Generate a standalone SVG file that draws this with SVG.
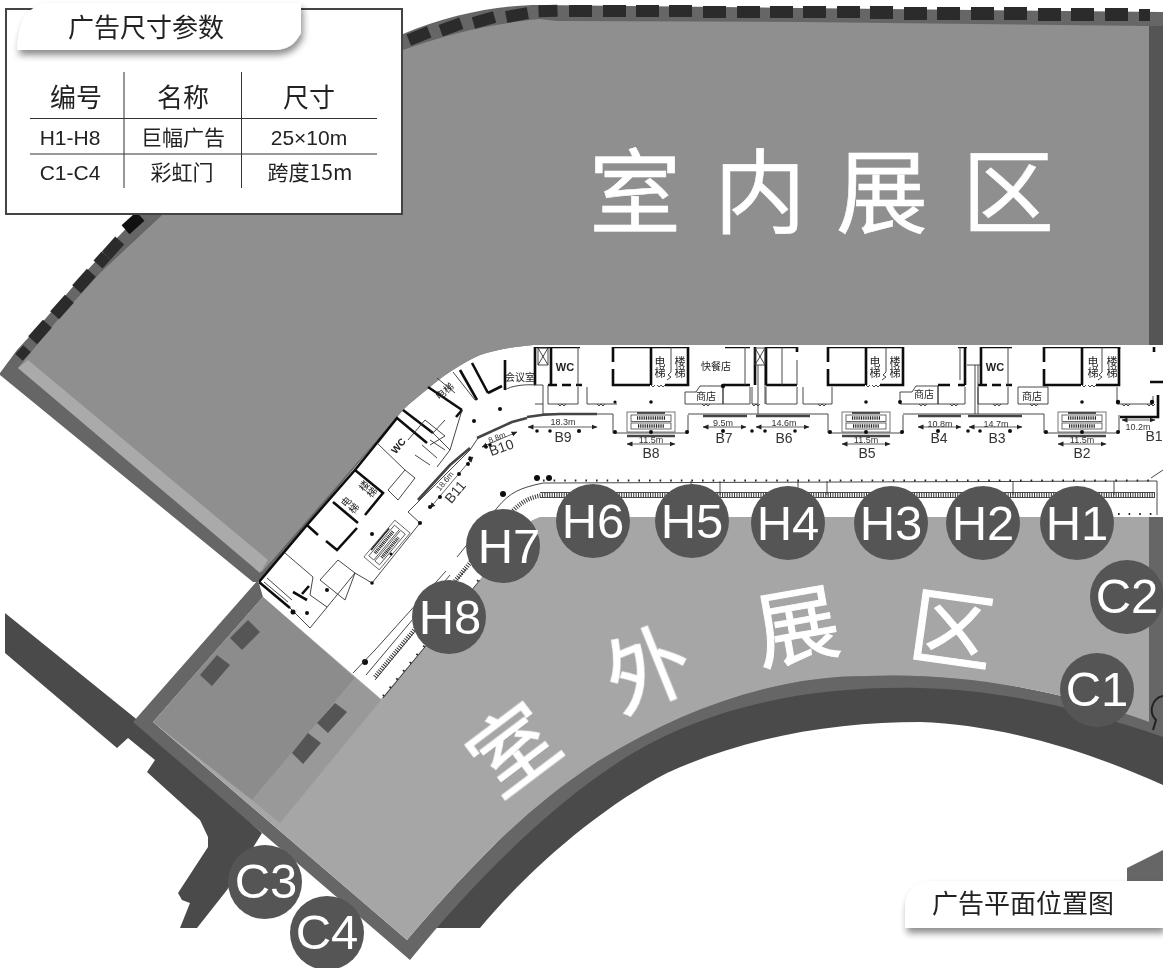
<svg xmlns="http://www.w3.org/2000/svg" xmlns:xlink="http://www.w3.org/1999/xlink" width="1163" height="968" viewBox="0 0 1163 968">
<style>
.cjk{font-family:"Noto Sans CJK SC","Liberation Sans",sans-serif}
.lat{font-family:"Liberation Sans","Noto Sans CJK SC",sans-serif}
.w{stroke:#111;stroke-width:2.6;fill:none}
.t{stroke:#333;stroke-width:.9;fill:none}
.bar{stroke:#444;stroke-width:2.6;fill:none}
.dim{stroke:#222;stroke-width:.7;fill:none;marker-start:url(#ar);marker-end:url(#ar)}
.dot{fill:#111}
.bl{fill:#2b2b2b}
.pl{fill:#222;font-size:10px;text-anchor:middle}
.vt{writing-mode:vertical-rl;font-size:11px}
.dl{fill:#333;font-size:9px;text-anchor:middle}
.bn{fill:#333;font-size:14px;text-anchor:middle}
.hd{fill:#222;font-size:26px;text-anchor:middle}
.row{fill:#222;font-size:21px;text-anchor:middle}
.big{fill:#fff;stroke:#fff;stroke-width:.6;font-size:92px;text-anchor:middle}
.out{fill:#fff;stroke:#fff;stroke-width:1;font-size:84px;text-anchor:middle}
.cl{fill:#555}
.ct{fill:#fff;font-size:49px;text-anchor:middle}
.rail{stroke:#333;stroke-width:4.5;stroke-dasharray:1 1.4;fill:none}
.tick{stroke:#222;stroke-width:2;stroke-dasharray:1.6 9;fill:none}
</style>
<defs>
<marker id="ar" viewBox="0 0 6 6" refX="5.5" refY="3" markerWidth="6" markerHeight="6" orient="auto-start-reverse" markerUnits="userSpaceOnUse"><path d="M0,.5L6,3L0,5.5Z" fill="#222"/></marker>
<filter id="sh" x="-10%" y="-30%" width="120%" height="170%"><feDropShadow dx="2" dy="5" stdDeviation="3.5" flood-color="#000" flood-opacity=".45"/></filter>
<filter id="soft" x="0" y="0" width="100%" height="100%"><feGaussianBlur stdDeviation=".35"/></filter>
<g id="esc">
<rect x="-24" y="-10" width="48" height="20" fill="none" stroke="#555" stroke-width=".8"/>
<rect x="-20" y="-7" width="40" height="6.500" fill="none" stroke="#444" stroke-width=".8"/>
<rect x="-20" y="1" width="40" height="6" fill="none" stroke="#444" stroke-width=".8"/>
<path d="M-14,-9H14" stroke="#222" stroke-width="1.500"/>
<path d="M-14,-4H14M-13,4H13" stroke="#222" stroke-width="3.500" stroke-dasharray="1 .8"/>
</g>
<path id="door" d="M0,0l2,2 2,-2 2,2 2,-2" class="t"/>
<g id="module">
<path class="w" d="M613,347H688V385H665M613,347V362M613,369V385H650M651,347V385"/>
<path class="t" d="M671,347V372l-3,3 3,2-4,3M651,385l2,2 2,-2M657,385l2,2 2,-2 2,2 2,-2"/>
<path class="t" d="M613,414V433H688V415"/>
<use xlink:href="#esc" x="651" y="422"/>
<path class="bar" d="M627,436H675"/>
<path class="dim" d="M627,444H675"/>
<circle class="dot" cx="615" cy="432" r="2"/><circle class="dot" cx="651" cy="432" r="2"/><circle class="dot" cx="687" cy="432" r="2"/><circle class="dot" cx="651" cy="402" r="1.800"/>
</g>
</defs>

<rect width="1163" height="968" fill="#fff"/>

<g id="road">
<path fill="#4a4a4a" d="M5,613L140,722L262,833L227,890L197,928H180L190,903L182,900L178,893L208,847V837L200,820L147,772L155,760L128,738L117,748L5,653Z"/>
<path fill="#4a4a4a" d="M425,928H480C530,868 600,808 667,773C750,735 840,722 920,722C1005,725 1090,752 1163,785V720L900,660L700,690L600,720Z"/>
<path fill="#666" d="M1127,868L1163,850V882H1127Z"/>
</g>

<g id="indoor-hall">
<path fill="#666" d="M0,373L17,350L40,325L83,275L117,238C200,150 320,70 403,34C450,14 500,5 540,5L800,8L1163,12V345H533C510,347 495,350 480,355C460,364 440,378 430,387C420,395 410,403 403,410L259,582L253,582L0,375Z"/>
<path fill="#8f8f8f" d="M18,368L60,317L100,273L160,217C250,130 340,80 403,50C450,33 490,24 540,19L557,21L800,22L1149,26V345H533C510,347 495,350 480,355C460,364 440,378 430,387C420,395 410,403 403,410L262,572Z"/>
<path fill="#aaa" d="M18,368L28,360L268,560L260,573Z"/>
<rect x="1149" y="26" width="14" height="319" fill="#555"/>
<g id="wall-marks" class="bl">
<rect x="569" y="5" width="23" height="12"/><rect x="603" y="5" width="23" height="12"/><rect x="636" y="5" width="23" height="12"/><rect x="669" y="5" width="23" height="12"/><rect x="703" y="6" width="23" height="12"/><rect x="737" y="6" width="23" height="12"/><rect x="770" y="6" width="23" height="12"/>
<rect x="803" y="6" width="23" height="12"/><rect x="837" y="6" width="23" height="12"/><rect x="870" y="6" width="23" height="13"/><rect x="904" y="7" width="23" height="13"/><rect x="937" y="7" width="23" height="13"/><rect x="971" y="7" width="23" height="13"/><rect x="1004" y="7" width="23" height="13"/><rect x="1038" y="8" width="23" height="13"/><rect x="1071" y="8" width="23" height="13"/><rect x="1105" y="8" width="23" height="13"/><rect x="1139" y="9" width="11" height="12"/>
<rect x="-9.500" y="-6" width="19" height="12" transform="translate(548,11) rotate(-2)"/>
<rect x="-11" y="-6" width="22" height="12" transform="translate(517,15) rotate(-10)"/>
<rect x="-11" y="-6" width="22" height="12" transform="translate(484,20) rotate(-16)"/>
<rect x="-11" y="-6" width="22" height="12" transform="translate(451,27) rotate(-20)"/>
<rect x="-11" y="-6" width="22" height="12" transform="translate(419,36) rotate(-22)"/>
<rect x="-10" y="-6" width="20" height="12" transform="translate(133,223) rotate(-42)" fill="#111"/>
<rect x="-10" y="-6" width="20" height="12" transform="translate(113,248) rotate(-48)"/>
<rect x="-6" y="-6" width="12" height="12" transform="translate(102,260) rotate(-48)"/>
<rect x="-11" y="-6" width="22" height="12" transform="translate(84,281) rotate(-48)"/>
<rect x="-11" y="-6" width="22" height="12" transform="translate(62,307) rotate(-48)"/>
<rect x="-11" y="-6" width="22" height="12" transform="translate(40,332) rotate(-48)"/>
<rect x="-6" y="-5" width="12" height="10" transform="translate(23,353) rotate(-48)"/>
</g>
</g>

<g id="outdoor-hall">
<path fill="#666" d="M258,580L133,722L410,960C475,880 555,800 633,753C720,702 820,686 920,688C1010,690 1090,712 1163,737V517H1149V722C1060,690 960,672 867,676C775,676 685,708 600,760C525,808 465,872 407,940L153,722L263,597Z"/>
<path fill="#a6a6a6" d="M263,597L381,699L480,580C495,555 515,525 540,517H1149V722C1060,690 960,672 867,676C775,676 685,708 600,760C525,808 465,872 407,940L153,722Z"/>
<path fill="#8c8c8c" d="M153,722L263,597L355,678L252,800Z"/>
<path fill="#999" d="M355,678L381,700L280,823L252,800Z"/>
<g id="gates" fill="#555">
<path d="M248,620L260,632L242,650L230,638Z"/><path d="M217,655L230,665L212,686L200,675Z"/><path d="M335,703L347,712L328,733L317,723Z"/><path d="M308,733L321,743L303,764L292,753Z"/>
</g>
<path d="M1163,696C1152,698 1148,712 1156,720L1153,730" fill="none" stroke="#222" stroke-width="2"/>
</g>

<g id="floor-plan" filter="url(#soft)">
<use xlink:href="#module"/>
<use xlink:href="#module" x="215"/>
<use xlink:href="#module" x="431"/>
<path class="w" d="M535,347V385M551,347V385M535,347H580"/>
<path class="w" stroke-dasharray="9 5" d="M548,385H582"/>
<path class="t" d="M538,348H548V365H538ZM538,348L548,365M548,348L538,365M578,347V385M534,385H543V414M548,385V404H578V387M587,387V404H617M535,404H543"/>
<path class="t" d="M543,414H613M688,414H828M903,414H1044M758,365V414M765,365V404"/>
<path class="w" d="M725,347H750M750,385H723M755,347V385M766,347V385M766,347H797M766,385H797M797,347V352"/>
<path class="t" d="M755,348H765V365H755ZM755,348L765,365M765,348L755,365M745,347V385M782,347V385M797,360V385"/>
<path class="t" d="M685,392H696L700,386H723V404H685ZM723,386V404H750V387M752,387V404H758M766,387V404H797V387M803,387V404H832V387"/>
<path class="t" d="M900,392H912L916,386H938V404H900ZM938,386V404H965V387M978,387V404H1008V387M1018,387H1048V404H1018ZM1117,387V404H1153V396"/>
<path class="w" d="M965,347V385M981,347V385M967,347H958M981,347H1012M938,385H950M958,385H965M1119,347V349M1154,347V352M1150,382H1163"/>
<path class="w" stroke-dasharray="9 5" d="M978,385H1012"/>
<path class="t" d="M967,365H980M975,365V414M1008,347V385M978,365V414M960,347V380"/>
<path class="w" stroke-width="3.500" d="M1120,417H1158V395"/>
<use xlink:href="#door" x="752" y="404"/><use xlink:href="#door" x="702" y="404"/><use xlink:href="#door" x="558" y="404"/><use xlink:href="#door" x="597" y="404"/><use xlink:href="#door" x="818" y="404"/><use xlink:href="#door" x="919" y="404"/><use xlink:href="#door" x="950" y="404"/><use xlink:href="#door" x="993" y="404"/><use xlink:href="#door" x="1030" y="404"/><use xlink:href="#door" x="1122" y="404"/><use xlink:href="#door" x="1147" y="404"/>
<circle class="dot" cx="615" cy="402" r="1.600"/><circle class="dot" cx="723" cy="386" r="2.200"/><circle class="dot" cx="1118" cy="402" r="2.200"/><circle class="dot" cx="1152" cy="402" r="2.200"/><circle class="dot" cx="900" cy="402" r="2"/>

<g id="bars" class="bar">
<path d="M527,417C538,415 545,414 560,414H597M703,416H747M756,416H810M918,416H961M968,416H1022"/>
<path d="M477,438L512,422L527,418"/>
<path d="M418,500L450,465L470,448"/>
</g>
<g id="dims">
<path class="dim" d="M528,427H597"/><path class="dim" d="M703,427H746"/><path class="dim" d="M756,427H809"/><path class="dim" d="M918,427H961"/><path class="dim" d="M969,427H1022"/><path class="dim" d="M1122,420H1155"/>
<path class="dim" d="M482,447L517,432"/><path class="dim" d="M430,508L473,457"/>
</g>
<g id="pillars">
<circle class="dot" cx="537" cy="431" r="1.800"/><circle class="dot" cx="550" cy="431" r="1.800"/><circle class="dot" cx="579" cy="431" r="2"/><circle class="dot" cx="723" cy="431" r="2"/><circle class="dot" cx="752" cy="431" r="1.800"/><circle class="dot" cx="765" cy="431" r="1.800"/><circle class="dot" cx="795" cy="431" r="1.800"/><circle class="dot" cx="938" cy="431" r="2"/><circle class="dot" cx="968" cy="431" r="1.800"/><circle class="dot" cx="980" cy="431" r="1.800"/><circle class="dot" cx="1010" cy="431" r="2"/>
<circle class="dot" cx="486" cy="447" r="1.800"/><circle class="dot" cx="490" cy="445" r="1.800"/><circle class="dot" cx="430" cy="507" r="2"/><circle class="dot" cx="440" cy="497" r="2"/><circle class="dot" cx="459" cy="474" r="2"/><circle class="dot" cx="468" cy="464" r="2"/><circle class="dot" cx="470" cy="458" r="1.800"/>
<circle class="dot" cx="500" cy="409" r="2"/><circle class="dot" cx="474" cy="421" r="2"/><circle class="dot" cx="372" cy="534" r="2"/>
<circle class="dot" cx="537" cy="478" r="3"/><circle class="dot" cx="549" cy="478" r="3"/><circle class="dot" cx="503" cy="494" r="3"/><circle class="dot" cx="365" cy="662" r="3"/>
</g>

<path class="w" d="M259,582L290,608M259,582L307,525M307,525L355,470L383,493L365,515M307,525L318,535M326,541L337,550L357,528M333,502L358,523M355,470L397,418L427,443M397,418L377,443M403,410L433,433"/>
<path class="w" d="M428,387L462,410M460,370L477,400M472,363L488,393M488,393L502,386M505,360V390M462,410L456,417"/>
<path class="w" d="M309,586L302,594M293,592L307,600"/>
<path class="t" d="M285,553L313,577L310,595L327,607M267,578L292,600M264,582L288,602M310,628L290,608M310,628L355,573L372,583L420,523L408,512L470,450M355,573L338,560M338,560L320,580L345,600L355,573"/>
<path class="t" d="M377,443L405,470M405,470L388,490L398,500L415,478L405,470M408,440L425,420L445,436L430,445M430,430L450,450L462,410M433,433L445,420M450,450L437,467M505,390C510,386 525,384 535,385M415,455L430,465M422,445L437,458M430,440L445,450M470,450L478,438"/>
<path class="t" d="M453,372L475,400M437,378L455,393"/>
<use xlink:href="#esc" transform="translate(387,545) rotate(-50)"/>
<circle class="dot" cx="372" cy="583" r="1.800"/><circle class="dot" cx="420" cy="523" r="2"/><circle class="dot" cx="293" cy="612" r="2.500"/><circle class="dot" cx="327" cy="590" r="2"/><circle class="dot" cx="307" cy="613" r="2"/>
<circle class="dot" cx="391" cy="554" r="1.500"/>

<path class="t" d="M353,673L375,650L446,571M457,557L497,508C510,492 520,488 543,483L1157,481V515"/>
<path class="t" d="M366,675L450,575M375,680L467,568"/>
<path class="rail" d="M375,677L470,563L500,525C515,507 525,497 545,495H1155"/>
<path class="t" d="M540,492.500H1155M540,497.500H1155"/>
<path class="tick" d="M543,480.500H1157"/>
<path class="t" d="M691,481V495M720,481V495M798,481V495M827,481V495M1013,481V495M1114,481V495"/>
<path class="t" d="M383,698L480,580M1151,478L1163,470"/>
<path class="tick" d="M383,696L480,578"/>
<path class="tick" d="M1118,514H1152"/>
</g>

<g id="plan-labels">
<g class="cjk">
<text class="pl vt" x="660" y="367">电梯</text><text class="pl vt" x="680" y="367">楼梯</text>
<text class="pl vt" x="875" y="367">电梯</text><text class="pl vt" x="895" y="367">楼梯</text>
<text class="pl vt" x="1093" y="367">电梯</text><text class="pl vt" x="1112" y="367">楼梯</text>
<text class="pl" x="716" y="370">快餐店</text>
<text class="pl" x="706" y="400">商店</text><text class="pl" x="924" y="398">商店</text><text class="pl" x="1032" y="400">商店</text>
<text class="pl" x="520" y="381">会议室</text>
<text class="pl" transform="translate(447,394) rotate(-40)">电梯</text>
<text class="pl vt" style="font-size:10px" transform="translate(350,505) rotate(-50)">电梯</text>
<text class="pl vt" style="font-size:10px" transform="translate(368,489) rotate(-50)">楼梯</text>
</g>
<g class="lat">
<text class="pl" x="565" y="371" font-weight="700" style="font-size:11px">WC</text>
<text class="pl" x="995" y="371" font-weight="700" style="font-size:11px">WC</text>
<text class="pl" font-weight="700" transform="translate(401,448) rotate(-50)">WC</text>
<text class="dl" x="563" y="425">18.3m</text><text class="bn" x="563" y="442">B9</text>
<text class="dl" x="651" y="443">11.5m</text><text class="bn" x="651" y="458">B8</text>
<text class="dl" x="723" y="426">9.5m</text><text class="bn" x="724" y="443">B7</text>
<text class="dl" x="784" y="426">14.6m</text><text class="bn" x="784" y="443">B6</text>
<text class="dl" x="866" y="443">11.5m</text><text class="bn" x="867" y="458">B5</text>
<text class="dl" x="940" y="427">10.8m</text><text class="bn" x="939" y="443">B4</text>
<text class="dl" x="996" y="427">14.7m</text><text class="bn" x="997" y="443">B3</text>
<text class="dl" x="1082" y="443">11.5m</text><text class="bn" x="1082" y="458">B2</text>
<text class="dl" x="1138" y="430">10.2m</text><text class="bn" x="1154" y="441">B1</text>
<text class="dl" style="font-size:8px" transform="translate(498,440) rotate(-22)">8.8m</text><text class="bn" transform="translate(503,452) rotate(-20)">B10</text>
<text class="dl" style="font-size:8px" transform="translate(447,483) rotate(-50)">18.6m</text><text class="bn" transform="translate(459,495) rotate(-50)">B11</text>
</g>
</g>

<g id="zone-indoor" class="cjk"><text class="big" x="635" y="226">室</text><text class="big" x="760" y="226">内</text><text class="big" x="882" y="226">展</text><text class="big" x="1008" y="226">区</text></g>
<g id="zone-outdoor" class="cjk">
<text class="out" transform="translate(514,750) rotate(-37)" y="30">室</text>
<text class="out" transform="translate(648,670) rotate(-22)" y="30">外</text>
<text class="out" transform="translate(797,627) rotate(-10)" y="30">展</text>
<text class="out" transform="translate(952,630) rotate(8)" y="30">区</text>
</g>

<g id="H1"><circle class="cl" cx="1077" cy="523" r="37"/><text class="ct lat" x="1077" y="540">H1</text></g>
<g id="H2"><circle class="cl" cx="983" cy="523" r="37"/><text class="ct lat" x="983" y="540">H2</text></g>
<g id="H3"><circle class="cl" cx="891" cy="523" r="37"/><text class="ct lat" x="891" y="540">H3</text></g>
<g id="H4"><circle class="cl" cx="788" cy="523" r="37"/><text class="ct lat" x="788" y="540">H4</text></g>
<g id="H5"><circle class="cl" cx="692" cy="521" r="37"/><text class="ct lat" x="692" y="538">H5</text></g>
<g id="H6"><circle class="cl" cx="593" cy="521" r="37"/><text class="ct lat" x="593" y="538">H6</text></g>
<g id="H7"><circle class="cl" cx="503" cy="546" r="37"/><text class="ct lat" x="509" y="563">H7</text></g>
<g id="H8"><circle class="cl" cx="449" cy="617" r="37"/><text class="ct lat" x="450" y="634">H8</text></g>
<g id="C1"><circle class="cl" cx="1097" cy="690" r="37"/><text class="ct lat" x="1097" y="706">C1</text></g>
<g id="C2"><circle class="cl" cx="1127" cy="597" r="37"/><text class="ct lat" x="1127" y="613">C2</text></g>
<g id="C3"><circle class="cl" cx="265" cy="882" r="37"/><text class="ct lat" x="266" y="898">C3</text></g>
<g id="C4"><circle class="cl" cx="327" cy="933" r="37"/><text class="ct lat" x="327" y="949">C4</text></g>

<g id="size-table">
<rect x="6" y="9" width="396" height="205" fill="#fff" stroke="#444" stroke-width="2"/>
<path d="M17,50C18,30 22,8 45,3H301V33C295,43 290,50 272,50Z" fill="#fff" filter="url(#sh)"/>
<text class="cjk" x="146" y="37" font-size="26" fill="#222" text-anchor="middle">广告尺寸参数</text>
<path d="M124,72V188M241.500,72V188M30,118.500H377M30,154H377" stroke="#333" stroke-width="1" fill="none"/>
<g class="cjk"><text class="hd" x="76" y="107">编号</text><text class="hd" x="183" y="107">名称</text><text class="hd" x="309" y="107">尺寸</text>
<text class="row" x="183" y="145">巨幅广告</text><text class="row" x="182" y="180">彩虹门</text></g>
<g class="lat"><text class="row" x="70" y="145">H1-H8</text><text class="row" x="309" y="145">25×10m</text><text class="row" x="70" y="180">C1-C4</text></g>
<text class="row cjk" x="310" y="180">跨度15m</text>
</g>

<g id="plan-title">
<path d="M905,928V906C905,890 918,881 935,881H1163V928Z" fill="#fff" filter="url(#sh)"/>
<text class="cjk" x="1023" y="913" font-size="26" fill="#222" text-anchor="middle">广告平面位置图</text>
</g>
</svg>
